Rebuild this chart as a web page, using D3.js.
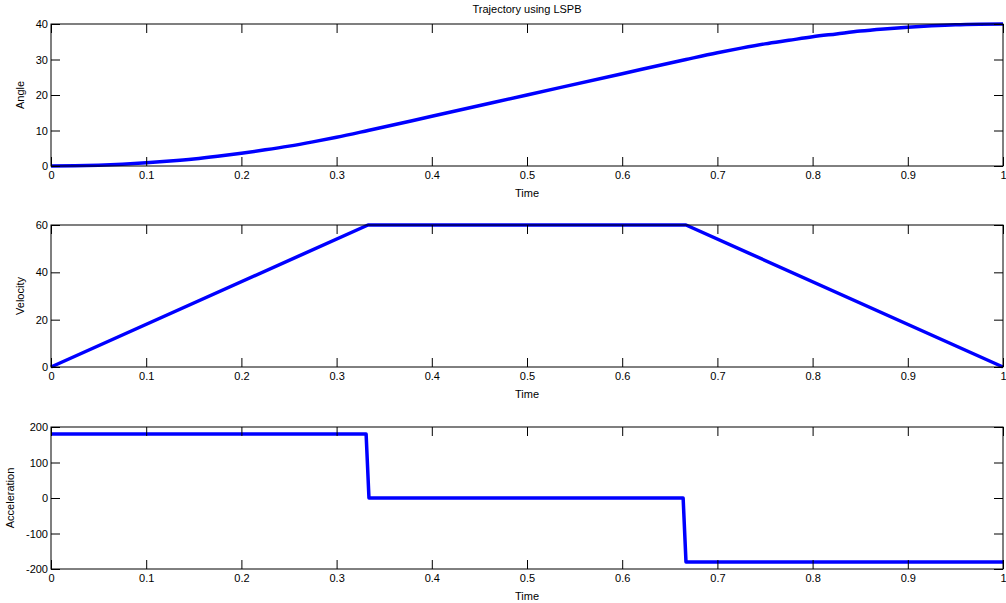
<!DOCTYPE html>
<html>
<head>
<meta charset="utf-8">
<script src="https://cdn.jsdelivr.net/npm/d3@7"></script>
<style>
    body { margin: 0; background: #fff; }
    svg text { font-family: "Liberation Sans", Arial, sans-serif; font-size: 11px; fill: #000; }
    .axis path { display: none; }
    .axis line { stroke: #000; }
</style>
</head>
<body>
<svg id="chart"></svg>
<script>
// 时间轴刻度
var timeTicks = [0, 0.1, 0.2, 0.3, 0.4, 0.5, 0.6, 0.7, 0.8, 0.9, 1];
// 角度
var angleTime = [0, 0.025, 0.05, 0.075, 0.1, 0.125, 0.15, 0.175, 0.2, 0.225, 0.25, 0.275, 0.3, 0.333,
    0.4, 0.5, 0.6, 0.667, 0.7, 0.725, 0.75, 0.775, 0.8, 0.825, 0.85, 0.875, 0.9, 0.925, 0.95, 0.975, 1];
var angleValue = [0, 0.06, 0.22, 0.5, 0.9, 1.4, 2.0, 2.75, 3.6, 4.55, 5.6, 6.8, 8.1, 10,
    14, 20, 26, 30, 31.9, 33.2, 34.4, 35.4, 36.4, 37.2, 38.0, 38.6, 39.1, 39.5, 39.8, 39.95, 40];
var angleTicks = [0, 10, 20, 30, 40];
// 速度
var velocityTime = [0, 0.333, 0.667, 1];
var velocityValue = [0, 60, 60, 0];
var velocityTicks = [0, 20, 40, 60];
// 加速度
var accelTime = [0, 0.331, 0.334, 0.664, 0.667, 1];
var accelValue = [180, 180, 0, 0, -180, -180];
var accelTicks = [-200, -100, 0, 100, 200];

var svgWidth = 1006, svgHeight = 603;
var svg = d3.select('#chart').attr('width', svgWidth).attr('height', svgHeight);

var left = 51, right = 1003;
var tickLen = 9;
// 刻度文字用普通减号
var plainFormat = function(d) { return String(d); };

svg.append('text')
    .attr('x', (left + right) / 2)
    .attr('y', 13)
    .attr('text-anchor', 'middle')
    .text('Trajectory using LSPB');

/**
 * 绘制一个子图
 */
function drawPanel(opt) {
    var x = d3.scaleLinear().domain([0, 1]).range([left, right]);
    var y = d3.scaleLinear().domain(opt.domain).range([opt.bottom, opt.top]);
    var g = svg.append('g');

    // 折线
    var data = opt.xs.map(function(d, i) { return [d, opt.ys[i]]; });
    var line = d3.line()
        .x(function(d) { return x(d[0]); })
        .y(function(d) { return y(d[1]); })
        .curve(opt.curve || d3.curveLinear);
    g.append('path')
        .datum(data)
        .attr('d', line)
        .attr('fill', 'none')
        .attr('stroke', '#0000ff')
        .attr('stroke-width', 3.5)
        .attr('stroke-linejoin', 'round');

    // 边框
    g.append('rect')
        .attr('x', left)
        .attr('y', opt.top)
        .attr('width', right - left)
        .attr('height', opt.bottom - opt.top)
        .attr('fill', 'none')
        .attr('stroke', '#000')
        .attr('stroke-width', 1);

    // x轴
    g.append('g')
        .attr('class', 'axis')
        .attr('transform', 'translate(0,' + opt.bottom + ')')
        .call(d3.axisBottom(x).tickValues(timeTicks).tickSize(-tickLen).tickPadding(5).tickFormat(plainFormat));
    g.append('g')
        .attr('class', 'axis')
        .attr('transform', 'translate(0,' + opt.top + ')')
        .call(d3.axisTop(x).tickValues(timeTicks).tickSize(-tickLen).tickFormat(''));
    // y轴
    g.append('g')
        .attr('class', 'axis')
        .attr('transform', 'translate(' + left + ',0)')
        .call(d3.axisLeft(y).tickValues(opt.ticks).tickSize(-tickLen).tickPadding(3).tickFormat(plainFormat));
    g.append('g')
        .attr('class', 'axis')
        .attr('transform', 'translate(' + right + ',0)')
        .call(d3.axisRight(y).tickValues(opt.ticks).tickSize(-tickLen).tickFormat(''));

    // 轴标题
    g.append('text')
        .attr('x', (left + right) / 2)
        .attr('y', opt.bottom + 31)
        .attr('text-anchor', 'middle')
        .text('Time');
    g.append('text')
        .attr('transform', 'translate(' + opt.labelX + ',' + (opt.top + opt.bottom) / 2 + ') rotate(-90)')
        .attr('text-anchor', 'middle')
        .text(opt.label);
}

drawPanel({top: 24, bottom: 166, domain: [0, 40], ticks: angleTicks, xs: angleTime, ys: angleValue,
    label: 'Angle', labelX: 24, curve: d3.curveMonotoneX});
drawPanel({top: 225, bottom: 367, domain: [0, 60], ticks: velocityTicks, xs: velocityTime, ys: velocityValue,
    label: 'Velocity', labelX: 24});
drawPanel({top: 427, bottom: 569, domain: [-200, 200], ticks: accelTicks, xs: accelTime, ys: accelValue,
    label: 'Acceleration', labelX: 14});
</script>
</body>
</html>
